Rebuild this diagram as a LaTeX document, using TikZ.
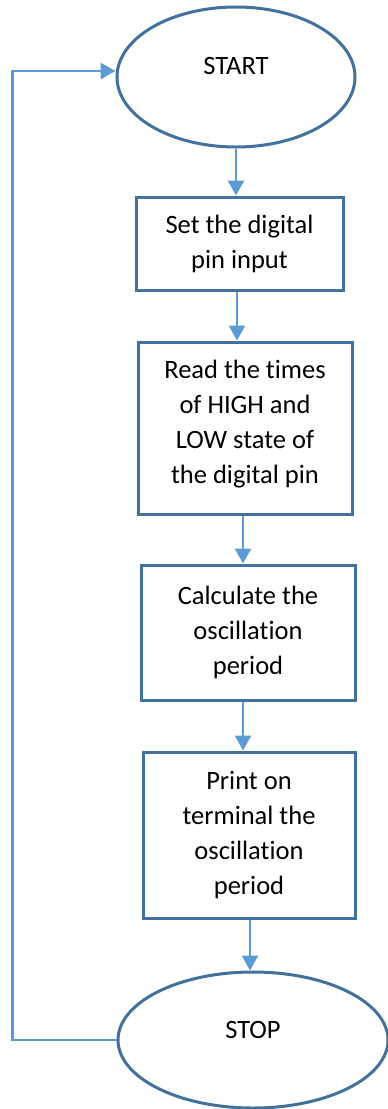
\documentclass[tikz,border=0pt]{standalone}
\usepackage{fontspec}
\setmainfont[Ligatures=NoCommon]{Carlito}
\usetikzlibrary{arrows.meta,shapes.geometric,calc}
\definecolor{boxblue}{HTML}{41719C}
\definecolor{arrblue}{HTML}{5B9BD5}
\begin{document}
\begin{tikzpicture}[x=1pt,y=-1pt,
  every node/.style={font=\fontsize{26.5}{35}\selectfont, text=black},
  stepbox/.style={draw=boxblue, line width=3pt, rectangle, inner sep=0pt, align=center},
  termin/.style={draw=boxblue, line width=3pt, ellipse, inner sep=0pt},
  arr/.style={draw=arrblue, line width=2.5pt, -{Triangle[width=16pt,length=15pt]}}]
\useasboundingbox (0,0) rectangle (388,1109);
\node[termin, minimum width=238pt, minimum height=140pt,
      label={[yshift=11pt]center:START}] (start) at (236,77) {};
\node[stepbox, minimum width=207pt, minimum height=93pt] (b1) at (239.5,243.5)
  {Set the digital\\pin input};
\node[stepbox, minimum width=214pt, minimum height=172pt] (b2) at (245,428)
  {Read the times\\of HIGH and\\LOW state of\\the digital pin\\[-23pt]};
\node[stepbox, minimum width=214pt, minimum height=135pt] (b3) at (248,632.5)
  {Calculate the\\oscillation\\period};
\node[stepbox, minimum width=212pt, minimum height=166pt] (b4) at (249,835)
  {Print on\\terminal the\\oscillation\\period};
\node[termin, minimum width=270pt, minimum height=136pt,
      label={[yshift=10pt]center:STOP}] (stop) at (253,1040) {};
\coordinate (corner) at (12.5,71);
\draw[arr] (start.south) -- (start.south |- b1.north);
\draw[arr] ([xshift=-2.5pt]b1.south) -- ([xshift=-2.5pt]b1.south |- b2.north);
\draw[arr] ([xshift=-2pt]b2.south) -- ([xshift=-2pt]b2.south |- b3.north);
\draw[arr] ([xshift=-5pt]b3.south) -- ([xshift=-5pt]b3.south |- b4.north);
\draw[arr] ([xshift=1pt]b4.south) -- ([xshift=1pt]b4.south |- stop.north);
\draw[arr] (stop.west) -| (corner) -- (corner -| start.west);
\end{tikzpicture}
\end{document}
